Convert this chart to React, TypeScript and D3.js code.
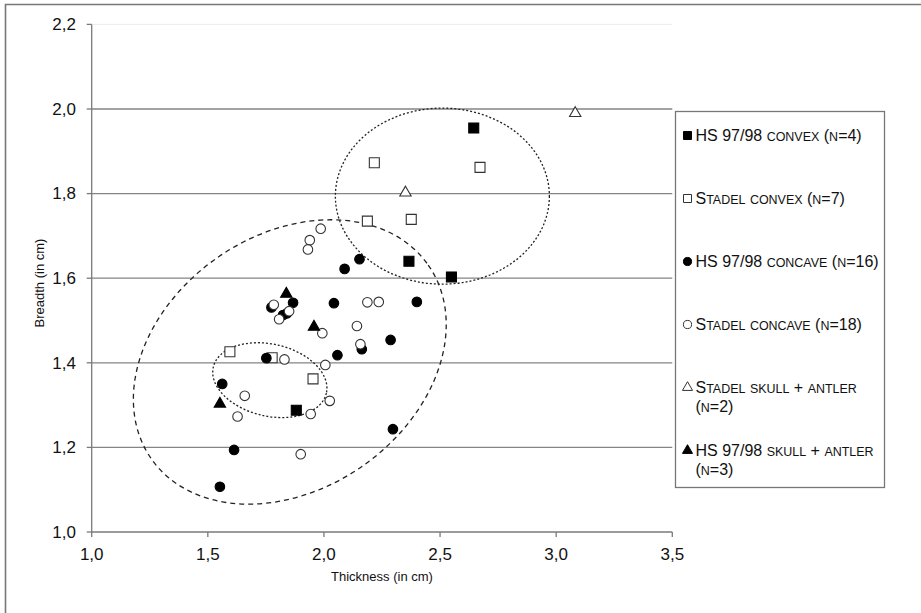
import * as d3 from "d3";

// series values: [thickness, breadth]
const hsConvex: [number, number][] = [
  [2.645, 1.955], [2.366, 1.64], [2.549, 1.603], [1.881, 1.288],
];
const stadelConvex: [number, number][] = [
  [2.217, 1.873], [2.672, 1.862], [2.187, 1.735], [2.376, 1.739],
  [1.595, 1.426], [1.777, 1.412], [1.953, 1.362],
];
const hsConcave: [number, number][] = [
  [2.153, 1.645], [2.089, 1.622], [1.867, 1.542], [2.043, 1.541],
  [2.4, 1.544], [1.774, 1.531], [1.824, 1.513], [1.841, 1.517],
  [2.287, 1.454], [2.163, 1.432], [2.058, 1.418], [1.752, 1.411],
  [1.562, 1.35], [1.613, 1.194], [1.552, 1.107], [2.297, 1.243],
];
const stadelConcave: [number, number][] = [
  [1.986, 1.717], [1.939, 1.69], [1.931, 1.668], [2.187, 1.543],
  [2.236, 1.544], [1.993, 1.47], [2.142, 1.487], [2.157, 1.444],
  [1.83, 1.408], [2.006, 1.395], [1.784, 1.537], [1.807, 1.503],
  [1.659, 1.322], [1.628, 1.273], [1.943, 1.279], [2.025, 1.31],
  [1.9, 1.184], [1.85, 1.522],
];
const stadelSkull: [number, number][] = [[3.082, 1.99], [2.351, 1.802]];
const hsSkull: [number, number][] = [[1.838, 1.563], [1.957, 1.485], [1.552, 1.303]];

const xTicks = [1.0, 1.5, 2.0, 2.5, 3.0, 3.5];
const yTicks = [1.0, 1.2, 1.4, 1.6, 1.8, 2.0, 2.2];
const gridTicks = [1.2, 1.4, 1.6, 1.8, 2.0];

const legendLabels = [
  ["HS 97/98 convex (n=4)"],
  ["Stadel convex (n=7)"],
  ["HS 97/98 concave (n=16)"],
  ["Stadel concave (n=18)"],
  ["Stadel skull + antler", "(n=2)"],
  ["HS 97/98 skull + antler", "(n=3)"],
];

// grouping ellipses: centre in data units, radii in px, rotation in degrees
const ellipses = [
  { cx: 1.853, cy: 1.402, rx: 169, ry: 127, rot: -35, dash: "5,4" },
  { cx: 1.767, cy: 1.359, rx: 58, ry: 36, rot: 13, dash: "2,2" },
  { cx: 2.51, cy: 1.794, rx: 107, ry: 88, rot: 0, dash: "2,2" },
];

const W = 921;
const H = 613;
const font = "'Liberation Sans', Arial, sans-serif";

// fake small caps: lowercase runs drawn as smaller capitals
function SmallCaps({ text, size }: { text: string; size: number }) {
  const runs = text.match(/[a-z]+|[^a-z]+/g) || [];
  return (
    <>
      {runs.map((r, i) =>
        /[a-z]/.test(r) ? (
          <tspan key={i} fontSize={size * 0.78}>{r.toUpperCase()}</tspan>
        ) : (
          <tspan key={i} fontSize={size}>{r}</tspan>
        )
      )}
    </>
  );
}

export default function App() {
  const x = d3.scaleLinear().domain([1, 3.5]).range([91.7, 672.3]);
  const y = d3.scaleLinear().domain([1, 2.2]).range([532, 24.4]);

  const sq = d3.symbol().type(d3.symbolSquare).size(100)()!;
  const circ = d3.symbol().type(d3.symbolCircle).size(72)()!;
  const tri = d3.symbol().type(d3.symbolTriangle).size(56)()!;
  const sqL = d3.symbol().type(d3.symbolSquare).size(64)()!;
  const circL = d3.symbol().type(d3.symbolCircle).size(52)()!;
  const triL = d3.symbol().type(d3.symbolTriangle).size(44)()!;

  const series = [
    { data: hsConvex, path: sq, lpath: sqL, fill: "#000", stroke: "#000" },
    { data: stadelConvex, path: sq, lpath: sqL, fill: "#fff", stroke: "#333" },
    { data: hsConcave, path: circ, lpath: circL, fill: "#000", stroke: "#000" },
    { data: stadelConcave, path: circ, lpath: circL, fill: "#fff", stroke: "#333" },
    { data: stadelSkull, path: tri, lpath: triL, fill: "#fff", stroke: "#333" },
    { data: hsSkull, path: tri, lpath: triL, fill: "#000", stroke: "#000" },
  ];

  const x0 = x.range()[0];
  const x1 = x.range()[1];

  return (
    <svg
      width={W}
      height={H}
      style={{ position: "absolute", left: 0, top: 0, background: "#fff" }}
      fontFamily={font}
    >
      {/* outer frame (only left/top visible) */}
      <path d={`M5.5,${H} V4.5 H${W}`} fill="none" stroke="#777" strokeWidth={1.6} />

      {/* grid */}
      <line x1={x0} x2={x1} y1={y(2.2)} y2={y(2.2)} stroke="#ececec" />
      {gridTicks.map((t) => (
        <line key={t} x1={x0} x2={x1} y1={y(t)} y2={y(t)} stroke="#858585" strokeWidth={1.3} />
      ))}

      {/* axes */}
      <line x1={x0} x2={x0} y1={y(2.2)} y2={y(1)} stroke="#7a7a7a" strokeWidth={1.3} />
      <line x1={x0} x2={x1} y1={y(1)} y2={y(1)} stroke="#7a7a7a" strokeWidth={1.3} />
      {yTicks.map((t) => (
        <g key={t}>
          <line x1={x0 - 5} x2={x0} y1={y(t)} y2={y(t)} stroke="#7a7a7a" strokeWidth={1.3} />
          <text x={76} y={y(t) + 5.8} textAnchor="end" fontSize={17} fill="#111">
            {t.toFixed(1).replace(".", ",")}
          </text>
        </g>
      ))}
      {xTicks.map((t) => (
        <g key={t}>
          <line x1={x(t)} x2={x(t)} y1={y(1)} y2={y(1) + 5} stroke="#7a7a7a" strokeWidth={1.3} />
          <text x={x(t)} y={560} textAnchor="middle" fontSize={17} fill="#111">
            {t.toFixed(1).replace(".", ",")}
          </text>
        </g>
      ))}
      <text x={(x0 + x1) / 2} y={581} textAnchor="middle" fontSize={13} fill="#111">
        Thickness (in cm)
      </text>
      <text
        transform={`translate(44,283) rotate(-90)`}
        textAnchor="middle"
        fontSize={13}
        fill="#111"
      >
        Breadth (in cm)
      </text>

      {/* ellipses */}
      {ellipses.map((e, i) => (
        <ellipse
          key={i}
          cx={x(e.cx)}
          cy={y(e.cy)}
          rx={e.rx}
          ry={e.ry}
          transform={`rotate(${e.rot},${x(e.cx)},${y(e.cy)})`}
          fill="none"
          stroke="#222"
          strokeWidth={1.3}
          strokeDasharray={e.dash}
        />
      ))}

      {/* points */}
      {series.map((s, i) => (
        <g key={i}>
          {s.data.map((d, j) => (
            <path
              key={j}
              d={s.path}
              transform={`translate(${x(d[0])},${y(d[1])})`}
              fill={s.fill}
              stroke={s.stroke}
              strokeWidth={1.1}
            />
          ))}
        </g>
      ))}

      {/* legend */}
      <rect x={675.5} y={111.5} width={209} height={376} fill="#fff" stroke="#777" strokeWidth={1.3} />
      {series.map((s, i) => {
        const cy = 135.5 + i * 63;
        return (
          <g key={i}>
            <path
              d={s.lpath}
              transform={`translate(687.5,${cy})`}
              fill={s.fill}
              stroke={s.stroke}
              strokeWidth={1}
            />
            {legendLabels[i].map((l, k) => (
              <text key={k} x={695.5} y={cy + 5.5 + k * 18.5} fill="#111">
                <SmallCaps text={l} size={16} />
              </text>
            ))}
          </g>
        );
      })}
    </svg>
  );
}
